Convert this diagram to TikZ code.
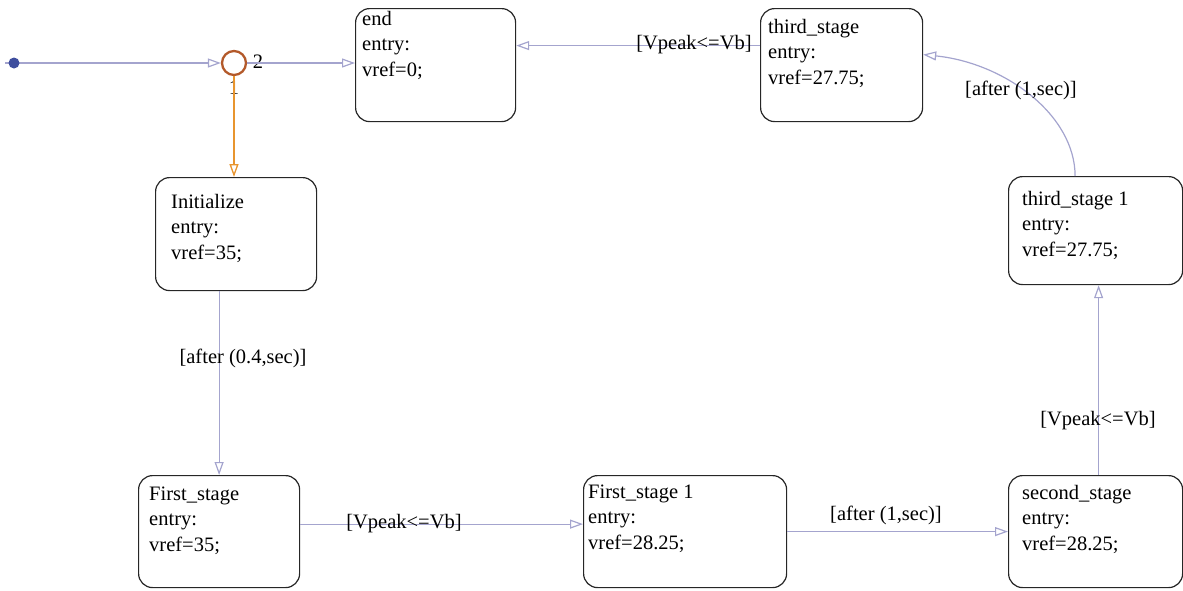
\documentclass[tikz,border=0pt]{standalone}
\usepackage{fontspec}
\setmainfont{Liberation Serif}
\usetikzlibrary{arrows.meta,calc}
\definecolor{lc}{HTML}{A4A4CE}
\definecolor{oc}{HTML}{E8952F}
\definecolor{jc}{HTML}{B3592A}
\definecolor{dc}{HTML}{3E4E9E}
\begin{document}
\begin{tikzpicture}[x=1pt,y=-1pt,
  state/.style={draw=black!85, line width=1.2pt, rounded corners=14pt, inner sep=0pt, anchor=north west},
  txt/.style={anchor=base west, align=left, inner sep=0pt, font=\fontsize{20.5}{25.5}\selectfont},
  lbl/.style={inner sep=0pt, font=\fontsize{20.5}{25}\selectfont},
  conn/.style={draw=lc, line width=1.2pt, -{Triangle[open,length=13pt,width=9pt,fill=white]}},
]
\useasboundingbox (0,0) rectangle (1183,590);
% states
\node[state, minimum width=160pt, minimum height=113pt] (end) at (355,8) {};
\node[state, minimum width=162pt, minimum height=113pt] (ts) at (760,8) {};
\node[state, minimum width=161pt, minimum height=113pt] (init) at (155,177) {};
\node[state, minimum width=174pt, minimum height=108pt] (ts1) at (1008,176) {};
\node[state, minimum width=161pt, minimum height=112pt] (fs) at (138,475) {};
\node[state, minimum width=203pt, minimum height=112pt] (fs1) at (583,475) {};
\node[state, minimum width=174pt, minimum height=112pt] (ss) at (1008,475) {};
% texts (anchor = baseline of last line)
\node[txt] (endt) at (362,76) {end\\entry:\\vref=0;};
\node[txt] (tst) at (768,84) {third\_stage\\entry:\\vref=27.75;};
\node[txt] (initt) at (171,259) {Initialize\\entry:\\vref=35;};
\node[txt] (ts1t) at (1022,256) {third\_stage 1\\entry:\\vref=27.75;};
\node[txt] (fst) at (149,551) {First\_stage\\entry:\\vref=35;};
\node[txt] (fs1t) at (588,549) {First\_stage 1\\entry:\\vref=28.25;};
\node[txt] (sst) at (1022,550) {second\_stage\\entry:\\vref=28.25;};
% junction and default transition
\node[circle, draw=jc, line width=2.3pt, minimum size=24pt, inner sep=0pt] (jn) at (234,63) {};
\node[lbl] (j2) at (258,62) {2};
\node[lbl] (j1) at (234,88) {1};
\coordinate (start) at (5,63);
\draw[conn] (start) -- (jn.west);
\node[circle, fill=dc, minimum size=11pt, inner sep=0pt] (dot) at (14,63) {};
% transitions
\draw[conn] (jn.east) -- (jn.east -| end.west);
\draw[conn, draw=oc, line width=1.3pt] (jn.south) -- (jn.south |- init.north);
\draw[conn] (init.south -| fs.north) -- (fs.north);
\node[lbl] (l1) at (243,358) {[after (0.4,sec)]};
\draw[conn] ($(fs.east)+(0,-7.5)$) coordinate (a1) -- (a1 -| fs1.west);
\node[lbl] (l2) at (404,524) {[Vpeak<=Vb]};
\draw[conn] (fs1.east) -- (fs1.east -| ss.west);
\node[lbl] (l3) at (886,515) {[after (1,sec)]};
\draw[conn] ($(ss.north)+(3,0)$) coordinate (a2) -- (a2 |- ts1.south);
\node[lbl] (l4) at (1098,421) {[Vpeak<=Vb]};
\draw[conn] ($(ts1.north)+(-20.5,0)$) .. controls (1075,115) and (1005,63) .. ($(ts.east)+(0,-10.5)$);
\node[lbl] (l5) at (1021,90) {[after (1,sec)]};
\draw[conn] ($(ts.west)+(0,-19.5)$) coordinate (a3) -- (a3 -| end.east);
\node[lbl] (l6) at (694,45) {[Vpeak<=Vb]};
\end{tikzpicture}
\end{document}
